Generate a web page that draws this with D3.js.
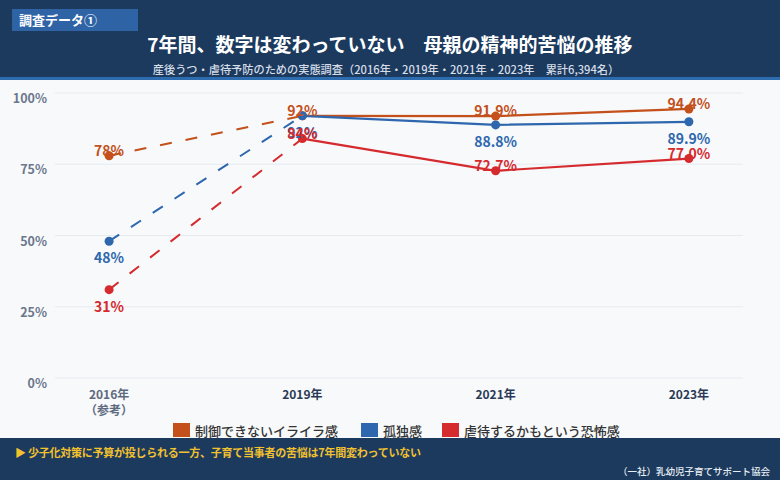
<!DOCTYPE html>
<html lang="ja">
<head>
<meta charset="utf-8">
<script src="https://cdn.jsdelivr.net/npm/d3@7"></script>
<style>
  html, body { margin: 0; padding: 0; background: #f7f9fb; }
  svg { display: block; font-family: "Noto Sans CJK JP", "Noto Sans", sans-serif; }
</style>
</head>
<body>
<div id="chart"></div>
<script>
// Data
const years = ["2016", "2019", "2021", "2023"];
const yearLabels = ["2016年", "2019年", "2021年", "2023年"];
const irritation = [78, 92, 91.9, 94.4];
const isolation = [48, 92, 88.8, 89.9];
const fear = [31, 84, 72.7, 77.0];
const irritationLabels = ["78%", "92%", "91.9%", "94.4%"];
const isolationLabels = ["48%", "92%", "88.8%", "89.9%"];
const fearLabels = ["31%", "84%", "72.7%", "77.0%"];
const yTicks = [0, 25, 50, 75, 100];
const seriesNames = ["制御できないイライラ感", "孤独感", "虐待するかもという恐怖感"];

const width = 780;
const height = 480;
const plot = { left: 55, right: 743, top: 93, bottom: 378 };

const colors = { irritation: "#c4501b", isolation: "#2e67ad", fear: "#d52a2e" };

const series = [
    { key: "irritation", name: seriesNames[0], values: irritation, labels: irritationLabels, below: i => false },
    { key: "isolation", name: seriesNames[1], values: isolation, labels: isolationLabels, below: i => true },
    { key: "fear", name: seriesNames[2], values: fear, labels: fearLabels, below: i => i === 0 }
];

const svg = d3.select("#chart").append("svg")
    .attr("width", width)
    .attr("height", height);

// Background
svg.append("rect").attr("width", width).attr("height", height).attr("fill", "#f7f9fb");

// Header band
svg.append("rect").attr("x", 0).attr("y", 0).attr("width", width).attr("height", 78).attr("fill", "#1c3a5e");
svg.append("rect").attr("x", 0).attr("y", 77).attr("width", width).attr("height", 3).attr("fill", "#2e6cb0");

// Tag
svg.append("rect").attr("x", 12).attr("y", 9).attr("width", 126).attr("height", 22).attr("fill", "#2e63a6");
svg.append("text")
    .attr("x", 19).attr("y", 25)
    .attr("fill", "#fff").attr("font-size", 13).attr("font-weight", 700)
    .text("調査データ①");

// Title
svg.append("text")
    .attr("x", 390).attr("y", 52)
    .attr("text-anchor", "middle")
    .attr("fill", "#fff").attr("font-size", 19).attr("font-weight", 700)
    .text("7年間、数字は変わっていない　母親の精神的苦悩の推移");

svg.append("text")
    .attr("x", 386).attr("y", 74)
    .attr("text-anchor", "middle")
    .attr("fill", "#d5dde8").attr("font-size", 11.2).attr("font-weight", 500)
    .text("産後うつ・虐待予防のための実態調査（2016年・2019年・2021年・2023年　累計6,394名）");

// Scales
const x = d3.scalePoint()
    .domain(years)
    .range([plot.left, plot.right])
    .padding(0.28);

const y = d3.scaleLinear()
    .domain([0, 100])
    .range([plot.bottom, plot.top]);

// Grid + y labels
const grid = svg.append("g").attr("class", "grid");
grid.selectAll("line")
    .data(yTicks)
    .join("line")
    .attr("x1", plot.left).attr("x2", plot.right)
    .attr("y1", d => y(d)).attr("y2", d => y(d))
    .attr("stroke", "#e6ebf1").attr("stroke-width", 1);

grid.selectAll("text")
    .data(yTicks)
    .join("text")
    .attr("x", 47)
    .attr("y", d => y(d) + 10)
    .attr("text-anchor", "end")
    .attr("fill", "#6b778b").attr("font-size", 12.5).attr("font-weight", 700)
    .text(d => d + "%");

// X labels
const xLab = svg.append("g").attr("class", "x-labels");
xLab.selectAll("text.year")
    .data(years)
    .join("text")
    .attr("class", "year")
    .attr("x", d => x(d))
    .attr("y", 399)
    .attr("text-anchor", "middle")
    .attr("fill", (d, i) => i === 0 ? "#5d6a80" : "#2a3a56")
    .attr("font-size", 12).attr("font-weight", 700)
    .text((d, i) => yearLabels[i]);

xLab.append("text")
    .attr("x", x(years[0]))
    .attr("y", 415)
    .attr("text-anchor", "middle")
    .attr("fill", "#5d6a80").attr("font-size", 12).attr("font-weight", 700)
    .text("（参考）");

// Lines
const line = d3.line()
    .x(d => x(d.year))
    .y(d => y(d.v));

const linesG = svg.append("g").attr("class", "lines");
series.forEach(s => {
    const pts = years.map((yr, i) => ({ year: yr, v: s.values[i] }));
    // dashed reference segment
    linesG.append("path")
        .attr("d", line(pts.slice(0, 2)))
        .attr("fill", "none")
        .attr("stroke", colors[s.key]).attr("stroke-width", 2)
        .attr("stroke-dasharray", "12,14");
    // solid segment
    linesG.append("path")
        .attr("d", line(pts.slice(1)))
        .attr("fill", "none")
        .attr("stroke", colors[s.key]).attr("stroke-width", 2.2);
});

// Dots
series.forEach(s => {
    linesG.selectAll(null)
        .data(years)
        .join("circle")
        .attr("cx", d => x(d))
        .attr("cy", (d, i) => y(s.values[i]))
        .attr("r", 4.5)
        .attr("fill", colors[s.key]);
});

// Value labels
const labelsG = svg.append("g").attr("class", "value-labels");
series.forEach(s => {
    labelsG.selectAll(null)
        .data(years)
        .join("text")
        .attr("x", d => x(d))
        .attr("y", (d, i) => y(s.values[i]) + (s.below(i) ? 22 : 0))
        .attr("text-anchor", "middle")
        .attr("fill", colors[s.key])
        .attr("font-size", 14).attr("font-weight", 600)
        .text((d, i) => s.labels[i]);
});

// Legend
const legendX = [173, 361, 442];
const legend = svg.append("g").attr("class", "legend");
series.forEach((s, i) => {
    legend.append("rect")
        .attr("x", legendX[i]).attr("y", 423)
        .attr("width", 17).attr("height", 14)
        .attr("fill", colors[s.key]);
    legend.append("text")
        .attr("x", legendX[i] + 22).attr("y", 436)
        .attr("fill", "#333").attr("font-size", 13).attr("font-weight", 500)
        .text(s.name);
});

// Footer
svg.append("rect").attr("x", 0).attr("y", 438).attr("width", width).attr("height", 42).attr("fill", "#1c3a5e");
svg.append("text")
    .attr("x", 15).attr("y", 457)
    .attr("fill", "#f2c12e").attr("font-size", 11).attr("font-weight", 700)
    .attr("letter-spacing", -0.25)
    .text("▶ 少子化対策に予算が投じられる一方、子育て当事者の苦悩は7年間変わっていない");
svg.append("text")
    .attr("x", 770).attr("y", 475)
    .attr("text-anchor", "end")
    .attr("fill", "#e8edf3").attr("font-size", 9.5).attr("font-weight", 500)
    .text("（一社）乳幼児子育てサポート協会");
</script>
</body>
</html>
